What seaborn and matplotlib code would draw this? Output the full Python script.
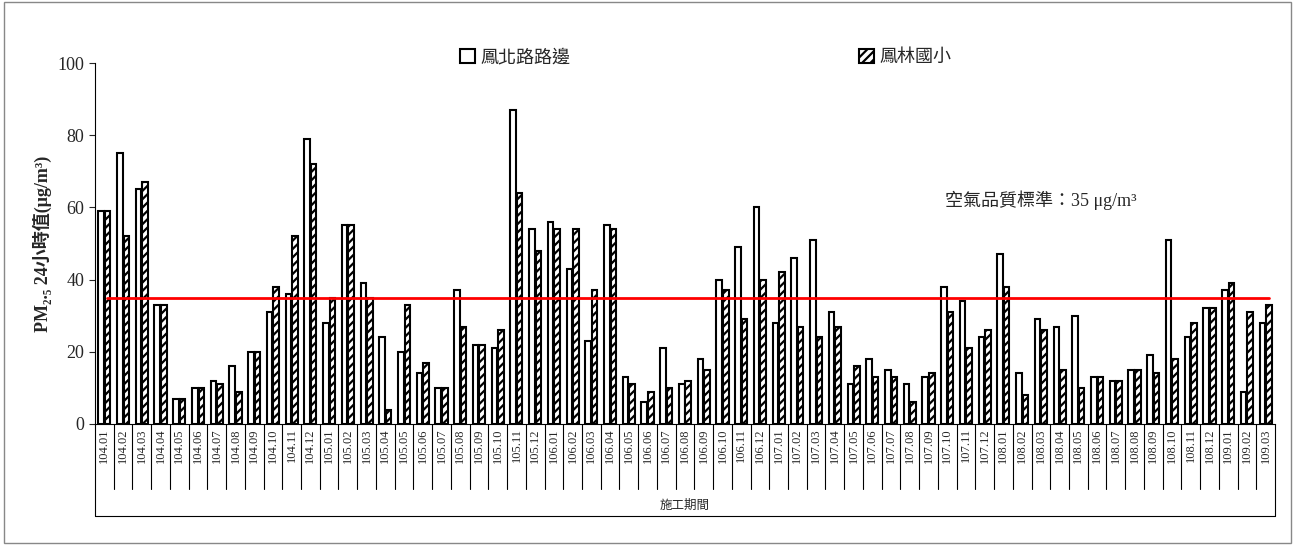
import matplotlib
matplotlib.use("Agg")
import matplotlib.pyplot as plt
import seaborn as sns
import pandas as pd
import numpy as np

months = ([f"104.{m:02d}" for m in range(1, 13)] + [f"105.{m:02d}" for m in range(1, 13)] +
          [f"106.{m:02d}" for m in range(1, 13)] + [f"107.{m:02d}" for m in range(1, 13)] +
          [f"108.{m:02d}" for m in range(1, 13)] + ["109.01", "109.02", "109.03"])
fengbei = [59, 75, 65, 33, 7, 10, 12, 16, 20, 31, 36, 79,
           28, 55, 39, 24, 20, 14, 10, 37, 22, 21, 87, 54,
           56, 43, 23, 55, 13, 6, 21, 11, 18, 40, 49, 60,
           28, 46, 51, 31, 11, 18, 15, 11, 13, 38, 34, 24,
           47, 14, 29, 27, 30, 13, 12, 15, 19, 51, 24, 32,
           37, 9, 28]
fenglin = [59, 52, 67, 33, 7, 10, 11, 9, 20, 38, 52, 72,
           35, 55, 35, 4, 33, 17, 10, 27, 22, 26, 64, 48,
           54, 54, 37, 54, 11, 9, 10, 12, 15, 37, 29, 40,
           42, 27, 24, 27, 16, 13, 13, 6, 14, 31, 21, 26,
           38, 8, 26, 15, 10, 13, 12, 15, 14, 18, 28, 32,
           39, 31, 33]
series = ["鳳北路路邊", "鳳林國小"]
standard = 35

df = pd.DataFrame({"month": months * 2,
                   "value": fengbei + fenglin,
                   "site": [series[0]] * len(months) + [series[1]] * len(months)})

sns.set_style("white")
FAM = ['Liberation Serif', 'Noto Sans CJK TC', 'DejaVu Sans']
plt.rcParams['font.family'] = FAM
plt.rcParams['hatch.linewidth'] = 1.6

fig = plt.figure(figsize=(12.95, 5.45), dpi=100)
ax = fig.add_axes([95/1295, 1-424/545, 1180/1295, 361/545])
sns.barplot(data=df, x="month", y="value", hue="site", order=months, hue_order=series,
            palette=["white", "white"], edgecolor="black", linewidth=1.5,
            width=0.7, gap=0.15, ax=ax, legend=False)
n = len(months)
for i, p in enumerate(ax.patches[:2 * n]):
    if i >= n:
        p.set_hatch("////")
ax.axhline(standard, color="red", lw=2, xmin=0.01, xmax=0.995)
ax.set_ylim(0, 100)
ax.set_xlim(-0.5, n - 0.5)
ax.set_yticks(range(0, 101, 20))
ax.tick_params(axis='y', labelsize=13, length=4, direction='out', left=True)
ax.tick_params(axis='x', labelsize=9, rotation=90, length=0, pad=3)
for s in ["top", "right"]:
    ax.spines[s].set_visible(False)
for s in ["left", "bottom"]:
    ax.spines[s].set_color("black")
ax.set_xlabel("")
ax.set_ylabel("PM₂.₅ 24小時值(μg/m³)", fontsize=13, fontweight='bold', family=FAM)
for k in range(n + 1):
    ax.plot([k - 0.5, k - 0.5], [0, -18], color="black", lw=0.8, clip_on=False)
ax.plot([-0.5, n - 0.5], [-25.5, -25.5], color="black", lw=0.8, clip_on=False)
ax.plot([-0.5, -0.5], [-18, -25.5], color="black", lw=0.8, clip_on=False)
ax.plot([n - 0.5, n - 0.5], [-18, -25.5], color="black", lw=0.8, clip_on=False)
ax.text((n - 1) / 2, -22.5, "施工期間", ha="center", va="center", fontsize=9,
        family=['Noto Sans CJK TC'])
ax.text(50, 62, "空氣品質標準：35 μg/m³", ha="center", va="center", fontsize=13, family=FAM)

handles = [plt.Rectangle((0, 0), 1, 1, facecolor="white", edgecolor="black", lw=1.5),
           plt.Rectangle((0, 0), 1, 1, facecolor="white", edgecolor="black", lw=1.5, hatch="////")]
fig.legend(handles, series, loc="center", bbox_to_anchor=(0.545, 0.895), ncol=2,
           frameon=False, columnspacing=16, handlelength=0.8,
           handleheight=0.8, handletextpad=0.3,
           prop={'family': ['Noto Sans CJK TC'], 'size': 13})
fig.patches.append(plt.Rectangle((0.003, 0.003), 0.994, 0.994, transform=fig.transFigure,
                                 fill=False, edgecolor="#888888", lw=1))
fig.savefig("out.png", dpi=100)
